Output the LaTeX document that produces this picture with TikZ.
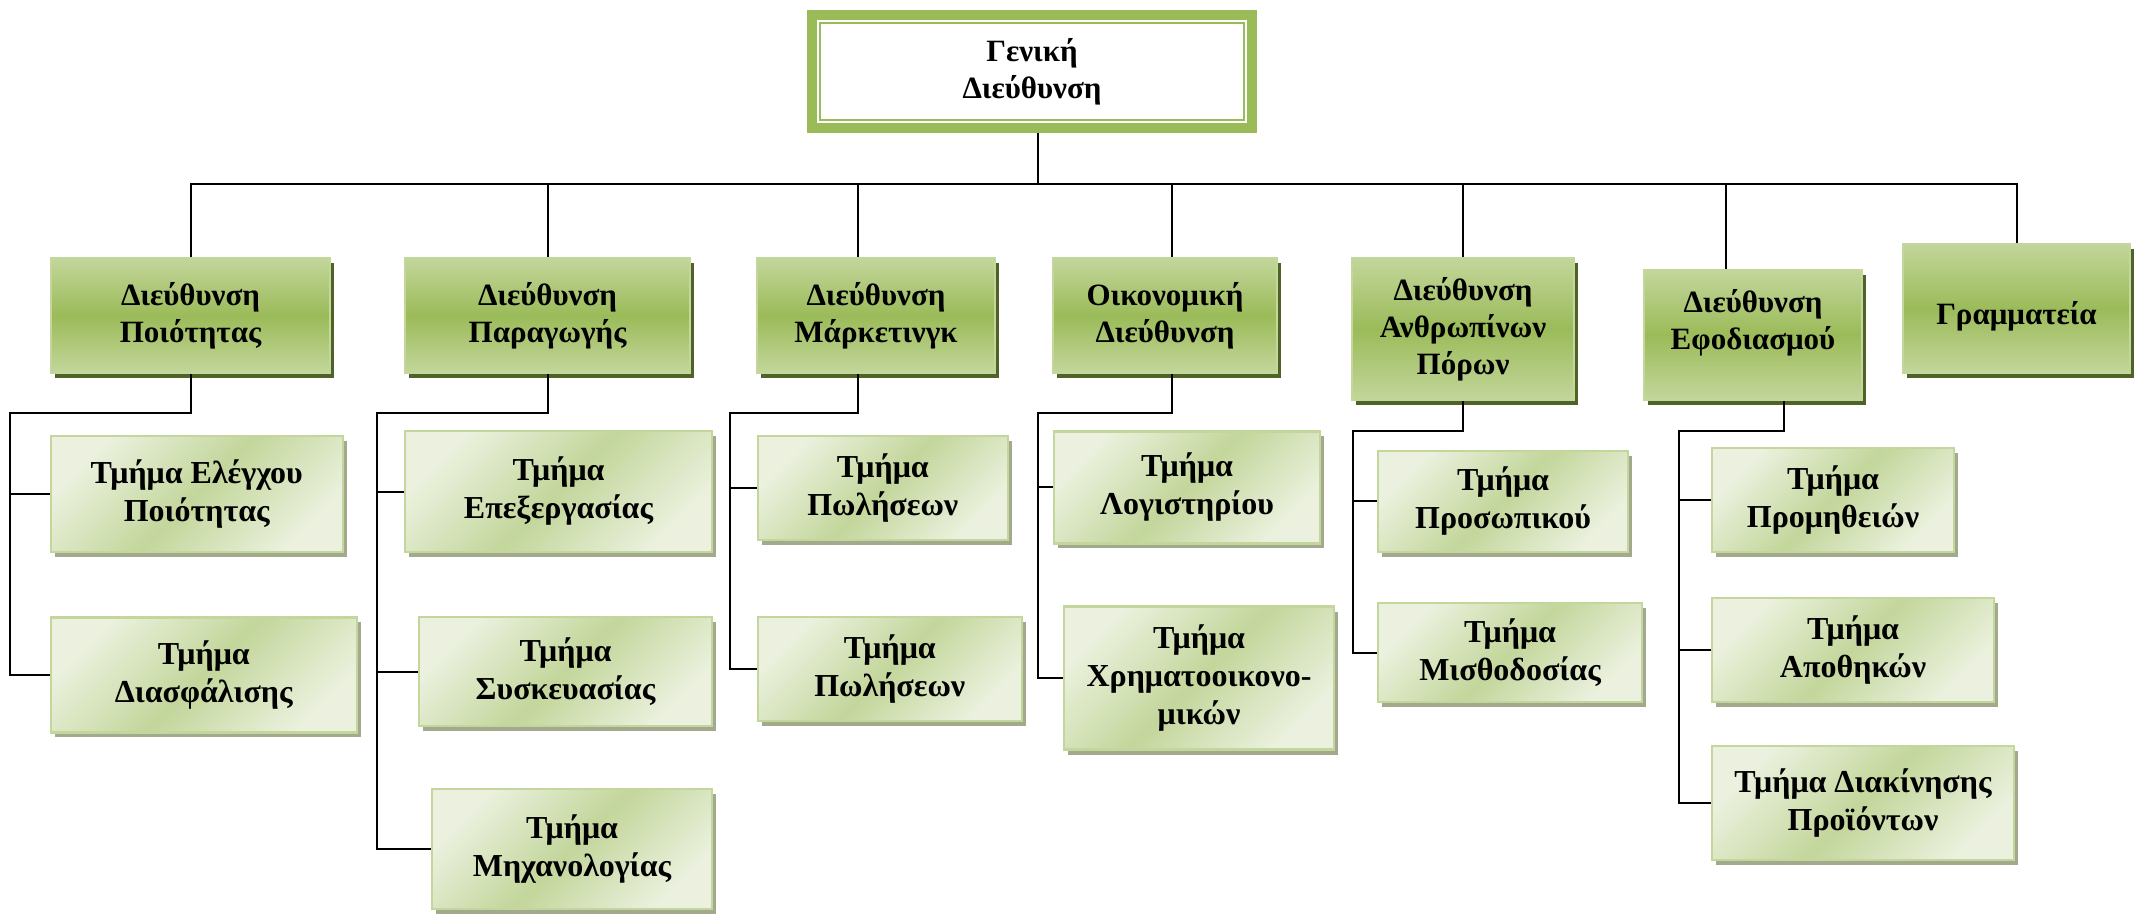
\documentclass[tikz,border=0pt]{standalone}
\usepackage{fontspec}
\setmainfont{Liberation Serif}
\usetikzlibrary{shadows}
\definecolor{hgreen}{HTML}{9BBB59}
\definecolor{lgreen}{HTML}{C3D69B}
\definecolor{pgreen}{HTML}{EBF1DE}
\definecolor{dolive}{HTML}{4F6228}
\definecolor{sgray}{HTML}{A3A98C}

\begin{document}
\begin{tikzpicture}[x=1pt,y=-1pt,line width=2pt,
  every node/.style={align=center,inner sep=0pt}]
  \tikzstyle{GenStyle}=[draw=hgreen,line width=10pt,fill=white,
    font=\fontsize{31}{37}\selectfont\bfseries]
  \tikzstyle{HeadStyle}=[draw=lgreen,line width=2.5pt,top color=lgreen,
    bottom color=lgreen,middle color=hgreen,
    drop shadow={fill=dolive,opacity=1,shadow xshift=4pt,shadow yshift=-5pt},
    font=\fontsize{31}{37}\selectfont\bfseries]
  \tikzstyle{DeptStyle}=[draw=lgreen,line width=2.5pt,top color=pgreen,
    bottom color=pgreen,middle color=lgreen,shading angle=45,
    drop shadow={fill=sgray,opacity=1,shadow xshift=4pt,shadow yshift=-5pt},
    font=\fontsize{32}{38}\selectfont\bfseries]
  \useasboundingbox (0,0) rectangle (2139,914);

  % general management
  \node[GenStyle,minimum width=440pt,minimum height=113pt] (gen) at (1032,71.5) {Γενική\\Διεύθυνση};
  \draw[hgreen] ([shift={(13,13)}]gen.north west) rectangle ([shift={(-13,-13)}]gen.south east);

  % directorates
  \node[HeadStyle,minimum width=279pt,minimum height=115pt] (d1) at (190.5,315.5) {Διεύθυνση\\Ποιότητας};
  \node[HeadStyle,minimum width=285pt,minimum height=115pt] (d2) at (547.5,315.5) {Διεύθυνση\\Παραγωγής};
  \node[HeadStyle,minimum width=238pt,minimum height=115pt] (d3) at (876,315.5) {Διεύθυνση\\Μάρκετινγκ};
  \node[HeadStyle,minimum width=224pt,minimum height=115pt] (d4) at (1165,315.5) {Οικονομική\\Διεύθυνση};
  \node[HeadStyle,minimum width=222pt,minimum height=142pt] (d5) at (1463,329) {Διεύθυνση\\Ανθρωπίνων\\Πόρων};
  \node[HeadStyle,minimum width=218pt,minimum height=130pt,text depth=32pt] (d6) at (1753,335) {Διεύθυνση\\Εφοδιασμού};
  \node[HeadStyle,minimum width=227pt,minimum height=129pt,text height=38pt] (d7) at (2016.5,308.5) {Γραμματεία};

  % departments
  \node[DeptStyle,minimum width=292pt,minimum height=116pt] (c11) at (196.75,494) {Τμήμα Ελέγχου\\Ποιότητας};
  \node[DeptStyle,minimum width=306pt,minimum height=115pt] (c12) at (203.75,674.75) {Τμήμα\\Διασφάλισης};
  \node[DeptStyle,minimum width=307pt,minimum height=121pt] (c21) at (558.5,491.5) {Τμήμα\\Επεξεργασίας};
  \node[DeptStyle,minimum width=293pt,minimum height=109pt] (c22) at (565.5,671.5) {Τμήμα\\Συσκευασίας};
  \node[DeptStyle,minimum width=280pt,minimum height=120pt] (c23) at (572,849) {Τμήμα\\Μηχανολογίας};
  \node[DeptStyle,minimum width=250pt,minimum height=104pt] (c31) at (882.75,488) {Τμήμα\\Πωλήσεων};
  \node[DeptStyle,minimum width=264pt,minimum height=104pt] (c32) at (889.75,669) {Τμήμα\\Πωλήσεων};
  \node[DeptStyle,minimum width=266pt,minimum height=112pt] (c41) at (1187,487.25) {Τμήμα\\Λογιστηρίου};
  \node[DeptStyle,minimum width=270pt,minimum height=143pt] (c42) at (1199,678) {Τμήμα\\Χρηματοοικονο-\\μικών};
  \node[DeptStyle,minimum width=250pt,minimum height=101pt] (c51) at (1503,501.25) {Τμήμα\\Προσωπικού};
  \node[DeptStyle,minimum width=264pt,minimum height=99pt] (c52) at (1510,652.5) {Τμήμα\\Μισθοδοσίας};
  \node[DeptStyle,minimum width=242pt,minimum height=104pt] (c61) at (1833,500) {Τμήμα\\Προμηθειών};
  \node[DeptStyle,minimum width=282pt,minimum height=104pt] (c62) at (1853,650) {Τμήμα\\Αποθηκών};
  \node[DeptStyle,minimum width=302pt,minimum height=114pt] (c63) at (1863,803) {Τμήμα Διακίνησης\\Προϊόντων};

  % top level bus
  \coordinate (bus) at (0,184);
  \draw (d1.north) |- (bus -| d7.north) -- (d7.north);
  \draw ([xshift=6pt]gen.south) -- ([xshift=6pt]gen.south |- bus);
  \draw (d2.north) -- (d2.north |- bus);
  \draw ([xshift=-18pt]d3.north) -- ([xshift=-18pt]d3.north |- bus);
  \draw ([xshift=7pt]d4.north) -- ([xshift=7pt]d4.north |- bus);
  \draw (d5.north) -- (d5.north |- bus);
  \draw ([xshift=-27pt]d6.north) -- ([xshift=-27pt]d6.north |- bus);

  % department spines
  \coordinate (s1) at (10,413);
  \coordinate (s2) at (376.5,413);
  \coordinate (s3) at (730,413);
  \coordinate (s4) at (1038,413);
  \coordinate (s5) at (1353,431);
  \coordinate (s6) at (1679,431);

  \draw (d1.south) |- (s1) |- (c12.west);
  \draw (s1 |- c11.west) -- (c11.west);
  \draw (d2.south) |- (s2) |- (c23.west);
  \draw (s2 |- c21.west) -- (c21.west);
  \draw (s2 |- c22.west) -- (c22.west);
  \draw ([xshift=-18pt]d3.south) |- (s3) |- (c32.west);
  \draw (s3 |- c31.west) -- (c31.west);
  \draw ([xshift=7pt]d4.south) |- (s4) |- (c42.west);
  \draw (s4 |- c41.west) -- (c41.west);
  \draw (d5.south) |- (s5) |- (c52.west);
  \draw (s5 |- c51.west) -- (c51.west);
  \draw ([xshift=31pt]d6.south) |- (s6) |- (c63.west);
  \draw (s6 |- c61.west) -- (c61.west);
  \draw (s6 |- c62.west) -- (c62.west);
\end{tikzpicture}
\end{document}
